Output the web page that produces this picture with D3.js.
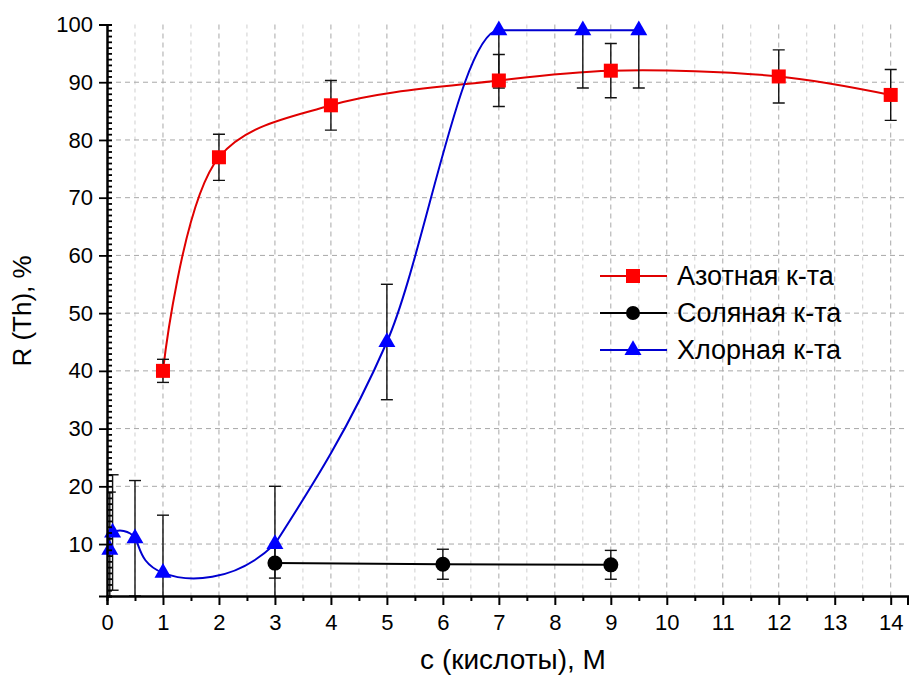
<!DOCTYPE html>
<html>
<head>
<meta charset="utf-8">
<script src="https://cdn.jsdelivr.net/npm/d3@7"></script>
<style>
  body { margin: 0; background: #fff; }
  text { font-family: "Liberation Sans", Arial, sans-serif; fill: #000; }
</style>
</head>
<body>
<svg id="chart" width="909" height="682"></svg>
<script>
// --- data ---
const nitricX = [1, 2, 4, 7, 9, 12, 14];
const nitricY = [40, 77, 86, 90.3, 92, 91, 87.8];
const nitricErr = [2, 4, 4.3, 4.5, 4.7, 4.6, 4.4];

const hydrochloricX = [3, 6, 9];
const hydrochloricY = [6.7, 6.5, 6.4];
const hydrochloricErr = [2.6, 2.6, 2.5];

const perchloricX = [0.05, 0.1, 0.5, 1, 3, 5, 7, 8.5, 9.5];
const perchloricY = [9, 12, 11, 5, 10, 45, 99, 99, 99];
const perchloricErr = [10, 10, 10, 10, 10, 10, 10, 10, 10];

const xTicks = d3.range(0, 15, 1);
const yTicks = d3.range(10, 101, 10);
const legendNames = ["Азотная к-та", "Соляная к-та", "Хлорная к-та"];

const svg = d3.select("#chart");
const x = d3.scaleLinear().domain([0, 14.3]).range([107, 907.5]);
const y = d3.scaleLinear().domain([1, 100]).range([596, 24.5]);

const toPts = (xs, ys, es) => xs.map((v, i) => ({x: v, y: ys[i], e: es[i]}));
const nitric = toPts(nitricX, nitricY, nitricErr);
const hcl = toPts(hydrochloricX, hydrochloricY, hydrochloricErr);
const perc = toPts(perchloricX, perchloricY, perchloricErr);

// grid
const grid = svg.append("g");
grid.selectAll(".vminor").data(d3.range(0.5, 14.3, 1)).enter().append("line")
    .attr("x1", d => x(d)).attr("x2", d => x(d))
    .attr("y1", y(100)).attr("y2", y(1))
    .attr("stroke", "#cfcfcf").attr("stroke-dasharray", "4,4");
grid.selectAll(".vmajor").data(xTicks.slice(1)).enter().append("line")
    .attr("x1", d => x(d)).attr("x2", d => x(d))
    .attr("y1", y(100)).attr("y2", y(1))
    .attr("stroke", "#a8a8a8").attr("stroke-dasharray", "5,4");
grid.selectAll(".hmajor").data(yTicks.slice(0, -1)).enter().append("line")
    .attr("x1", x(0)).attr("x2", x(14.3))
    .attr("y1", d => y(d)).attr("y2", d => y(d))
    .attr("stroke", "#a8a8a8").attr("stroke-dasharray", "5,4");

svg.append("clipPath").attr("id", "plotclip").append("rect")
    .attr("x", x(0)).attr("y", y(100)).attr("width", x(14.3) - x(0)).attr("height", y(1) - y(100));
// left part of the perchloric curve (up to c = 3)
svg.append("clipPath").attr("id", "leftclip").append("rect")
    .attr("x", x(0)).attr("y", y(100)).attr("width", x(3) - x(0)).attr("height", y(1) - y(100));

const plot = svg.append("g").attr("clip-path", "url(#plotclip)");

// curves
const line = d3.line().x(d => x(d.x)).y(d => y(d.y));
plot.append("path").datum(nitric)
    .attr("d", line.curve(d3.curveCatmullRom.alpha(0.5)))
    .attr("fill", "none").attr("stroke", "#e00000").attr("stroke-width", 2);
plot.append("path").datum(hcl)
    .attr("d", d3.line().x(d => x(d.x)).y(d => y(d.y)))
    .attr("fill", "none").attr("stroke", "#000").attr("stroke-width", 2);
plot.append("g").attr("clip-path", "url(#leftclip)")
  .append("path").datum(perc.slice(0, 6))
    .attr("d", d3.line().x(d => x(d.x)).y(d => y(d.y)).curve(d3.curveNatural))
    .attr("fill", "none").attr("stroke", "#0000d0").attr("stroke-width", 2);
plot.append("path").datum(perc.slice(4))
    .attr("d", d3.line().x(d => x(d.x)).y(d => y(d.y)).curve(d3.curveMonotoneX))
    .attr("fill", "none").attr("stroke", "#0000d0").attr("stroke-width", 2);

// error bars
function errorBars(data) {
    const g = plot.append("g").attr("stroke", "#111").attr("stroke-width", 1.4);
    data.forEach(d => {
        const cx = x(d.x);
        g.append("line").attr("x1", cx).attr("x2", cx).attr("y1", y(d.y - d.e)).attr("y2", y(d.y + d.e));
        g.append("line").attr("x1", cx - 6).attr("x2", cx + 6).attr("y1", y(d.y - d.e)).attr("y2", y(d.y - d.e));
        g.append("line").attr("x1", cx - 6).attr("x2", cx + 6).attr("y1", y(d.y + d.e)).attr("y2", y(d.y + d.e));
    });
}
errorBars(nitric);
errorBars(hcl);
errorBars(perc);

// markers
const tri = d3.symbol().type(d3.symbolTriangle).size(125);
svg.selectAll(".sq").data(nitric).enter().append("rect")
    .attr("x", d => x(d.x) - 7).attr("y", d => y(d.y) - 7)
    .attr("width", 14).attr("height", 14).attr("fill", "#ff0000");
svg.selectAll(".ci").data(hcl).enter().append("circle")
    .attr("cx", d => x(d.x)).attr("cy", d => y(d.y)).attr("r", 7.5).attr("fill", "#000");
svg.selectAll(".tr").data(perc).enter().append("path")
    .attr("d", tri).attr("transform", d => `translate(${x(d.x)},${y(d.y)})`)
    .attr("fill", "#0000ff");

// axes
const xAxis = svg.append("g").attr("transform", `translate(0,${y(1)})`);
xAxis.call(d3.axisBottom(x).tickValues(d3.range(0.5, 14.3, 1)).tickSize(5).tickFormat(""));
xAxis.call(g => g.append("g").call(d3.axisBottom(x).tickValues(xTicks).tickSize(9).tickPadding(9).tickFormat(d3.format("d"))));
xAxis.selectAll("path.domain").attr("stroke", "#000").attr("stroke-width", 2);
xAxis.selectAll(".tick line").attr("stroke", "#000").attr("stroke-width", 2);
xAxis.selectAll("text").attr("font-size", 22).attr("fill", "#000")
    .style("font-family", "'Liberation Sans', Arial, sans-serif");

const yAxis = svg.append("g").attr("transform", `translate(${x(0)},0)`);
yAxis.call(d3.axisRight(y).tickValues(d3.range(1, 101, 1)).tickSize(5).tickFormat(""));
yAxis.call(g => g.append("g").call(d3.axisLeft(y).tickValues(yTicks).tickSize(8).tickPadding(6)));
yAxis.selectAll("path.domain").attr("stroke", "#000").attr("stroke-width", 2);
yAxis.selectAll(".tick line").attr("stroke", "#000").attr("stroke-width", 1.8);
yAxis.selectAll("text").attr("font-size", 22).attr("fill", "#000")
    .style("font-family", "'Liberation Sans', Arial, sans-serif");

// titles
svg.append("text").attr("x", 513).attr("y", 669).attr("text-anchor", "middle")
    .attr("font-size", 28).text("c (кислоты), M");
svg.append("text").attr("transform", "translate(31,311) rotate(-90)").attr("text-anchor", "middle")
    .attr("font-size", 26).text("R (Th), %");

// legend
const legend = svg.append("g").attr("transform", "translate(600,276)");
const legColors = ["#e00000", "#000", "#0000d0"];
const markColors = ["#ff0000", "#000", "#0000ff"];
legendNames.forEach((name, i) => {
    const g = legend.append("g").attr("transform", `translate(0,${i * 37})`);
    g.append("line").attr("x1", 0).attr("x2", 67).attr("stroke", legColors[i]).attr("stroke-width", 2);
    if (i === 0) g.append("rect").attr("x", 26).attr("y", -7).attr("width", 14).attr("height", 14).attr("fill", markColors[i]);
    if (i === 1) g.append("circle").attr("cx", 33).attr("r", 7).attr("fill", markColors[i]);
    if (i === 2) g.append("path").attr("d", tri).attr("transform", "translate(33,0)").attr("fill", markColors[i]);
    g.append("text").attr("x", 77).attr("y", 9).attr("font-size", 27).text(name);
});
</script>
</body>
</html>
